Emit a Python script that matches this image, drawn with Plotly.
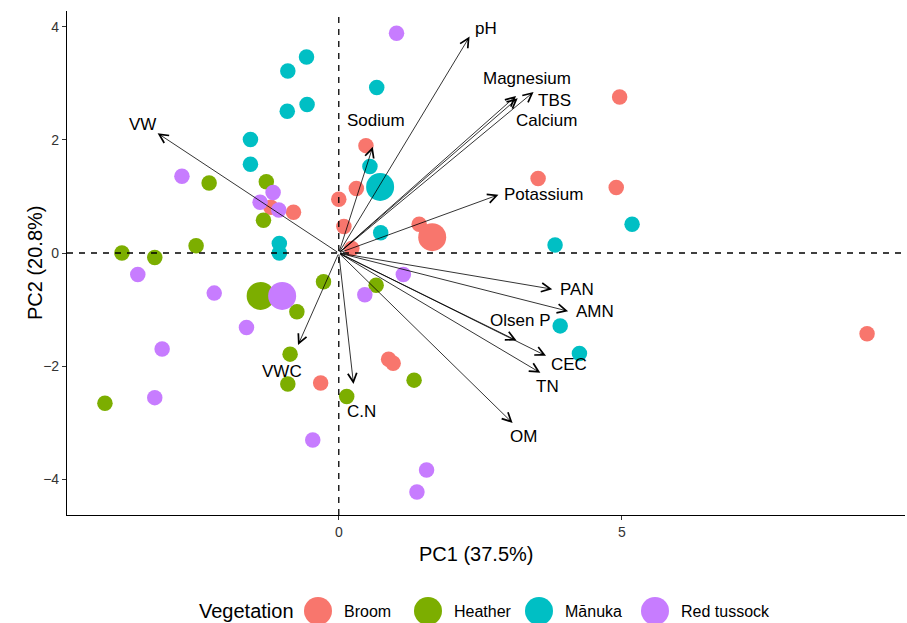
import plotly.graph_objects as go

# ---------------- data ----------------
groups = ["Broom", "Heather", "Mānuka", "Red tussock"]
colors = ["#F8766D", "#7CAE00", "#00BFC4", "#C77CFF"]

broom_pc1 = [-1.20, -0.80, 0.00, 0.09, 0.31, 0.48, 4.96, 3.52, 4.90, 1.42, 0.23, -0.32, 0.88, 0.96, 9.33]
broom_pc2 = [0.81, 0.72, 0.95, 0.47, 1.14, 1.90, 2.76, 1.32, 1.16, 0.51, 0.08, -2.30, -1.88, -1.95, -1.43]

heather_pc1 = [-2.29, -1.28, -1.33, -2.52, -3.83, -3.25, -0.27, -0.74, -0.86, -0.90, 0.14, -4.13, 0.66, 1.33]
heather_pc2 = [1.24, 1.26, 0.58, 0.13, 0.00, -0.08, -0.51, -1.04, -1.79, -2.32, -2.54, -2.66, -0.57, -2.25]

manuka_pc1 = [-0.57, -0.90, -0.56, -0.91, -1.56, -1.56, -1.05, -1.05, 0.67, 0.55, 3.82, 5.18, 0.74, 3.91, 4.25]
manuka_pc2 = [3.47, 3.22, 2.63, 2.51, 2.01, 1.57, 0.17, 0.00, 2.93, 1.53, 0.14, 0.51, 0.36, -1.29, -1.78]

tussock_pc1 = [-2.77, -1.16, -1.39, -1.06, 1.02, -3.55, -2.20, -1.63, -3.12, -3.25, -0.46, 1.14, 0.46, 1.55, 1.38]
tussock_pc2 = [1.36, 1.07, 0.90, 0.76, 3.89, -0.38, -0.71, -1.32, -1.70, -2.56, -3.31, -0.38, -0.74, -3.84, -4.23]

centroid_pc1 = [1.65, -1.38, 0.73, -1.00]
centroid_pc2 = [0.28, -0.76, 1.17, -0.76]

loading_names = ["pH", "Magnesium", "TBS", "Calcium", "Sodium", "Potassium", "VW", "VWC",
                 "C.N", "PAN", "AMN", "Olsen P", "CEC", "TN", "OM"]
loading_pc1 = [2.31, 3.13, 3.44, 3.16, 0.60, 2.82, -3.20, -0.72, 0.26, 3.77, 4.05, 3.14, 3.66, 3.56, 3.07]
loading_pc2 = [3.83, 2.78, 2.85, 2.74, 1.88, 1.03, 2.12, -1.63, -2.32, -0.64, -1.03, -1.55, -1.82, -2.12, -3.01]
label_pc1 = [2.60, 3.33, 3.81, 3.66, 0.66, 3.62, -3.46, -1.00, 0.40, 4.20, 4.52, 3.20, 4.06, 3.69, 3.26]
label_pc2 = [3.98, 3.09, 2.70, 2.35, 2.35, 1.03, 2.28, -2.10, -2.81, -0.64, -1.04, -1.19, -1.98, -2.37, -3.25]

x_ticks = [0, 5]
y_ticks = [-4, -2, 0, 2, 4]
y_ticktext = ["−4", "−2", "0", "2", "4"]

# ---------------- figure ----------------
W, H = 907, 623
ML, MR, MT, MB = 67, 2, 11, 108
PW, PH = W - ML - MR, H - MT - MB

def px2paper_x(px):
    return (px - ML) / PW

def px2paper_y(py):
    return (H - MB - py) / PH

FONT = "Liberation Sans, Arial, sans-serif"

fig = go.Figure()

series = [(broom_pc1, broom_pc2), (heather_pc1, heather_pc2),
          (manuka_pc1, manuka_pc2), (tussock_pc1, tussock_pc2)]
for g, c, (xs, ys) in zip(groups, colors, series):
    fig.add_trace(go.Scatter(x=xs, y=ys, mode="markers", name=g, showlegend=False,
                             marker=dict(color=c, size=15.5, line=dict(width=0))))

for i, g in enumerate(groups):
    fig.add_trace(go.Scatter(x=[centroid_pc1[i]], y=[centroid_pc2[i]], mode="markers",
                             name=g + " centroid", showlegend=False,
                             marker=dict(color=colors[i], size=28, line=dict(width=0))))

annotations = []
for n, lx, ly, tx, ty in zip(loading_names, loading_pc1, loading_pc2, label_pc1, label_pc2):
    annotations.append(dict(x=lx, y=ly, ax=0, ay=0, xref="x", yref="y", axref="x", ayref="y",
                            text="", showarrow=True, arrowhead=5, arrowsize=2.2, arrowwidth=0.8,
                            arrowcolor="black", standoff=0, startstandoff=0))
    annotations.append(dict(x=tx, y=ty, xref="x", yref="y", text=n, showarrow=False,
                            font=dict(family=FONT, size=17, color="black"),
                            xanchor="center", yanchor="middle"))

# axis titles
annotations.append(dict(x=px2paper_x(476), y=px2paper_y(554), xref="paper", yref="paper",
                        text="PC1 (37.5%)", showarrow=False, xanchor="center", yanchor="middle",
                        font=dict(family=FONT, size=20, color="black")))
annotations.append(dict(x=px2paper_x(35), y=px2paper_y(263), xref="paper", yref="paper",
                        text="PC2 (20.8%)", showarrow=False, xanchor="center", yanchor="middle",
                        textangle=-90, font=dict(family=FONT, size=20, color="black")))

# custom legend
leg_y = 611
annotations.append(dict(x=px2paper_x(197), y=px2paper_y(leg_y), xref="paper", yref="paper",
                        text="Vegetation", showarrow=False, xanchor="left", yanchor="middle",
                        font=dict(family=FONT, size=20, color="black")))
key_centers = [318, 428, 539, 655]
shapes = []
for c, g, kc in zip(colors, groups, key_centers):
    shapes.append(dict(type="circle", xref="paper", yref="paper", xsizemode="pixel",
                       ysizemode="pixel", xanchor=px2paper_x(kc), yanchor=px2paper_y(leg_y),
                       x0=-14, x1=14, y0=-14, y1=14, fillcolor=c, line=dict(width=0)))
    annotations.append(dict(x=px2paper_x(kc + 24), y=px2paper_y(leg_y), xref="paper", yref="paper",
                            text=g, showarrow=False, xanchor="left", yanchor="middle",
                            font=dict(family=FONT, size=16, color="black")))

# reference lines
shapes.append(dict(type="line", xref="paper", yref="y", x0=0, x1=1, y0=0, y1=0,
                   line=dict(color="black", width=1.3, dash="6px,6px"), layer="above"))
shapes.append(dict(type="line", xref="x", yref="paper", x0=0, x1=0, y0=0, y1=1,
                   line=dict(color="black", width=1.3, dash="6px,6px"), layer="above"))

fig.update_layout(
    width=W, height=H,
    margin=dict(l=ML, r=MR, t=MT, b=MB, autoexpand=False),
    plot_bgcolor="white", paper_bgcolor="white",
    font=dict(family=FONT, size=14, color="#333333"),
    showlegend=False,
    annotations=annotations,
    shapes=shapes,
    xaxis=dict(range=[-4.80, 10.0], tickvals=x_ticks, ticks="outside", ticklen=4,
               tickcolor="#333333", tickwidth=1, showline=True, linecolor="black", linewidth=1.2,
               showgrid=False, zeroline=False, tickfont=dict(size=14, color="#333333")),
    yaxis=dict(range=[-4.637, 4.283], tickvals=y_ticks, ticktext=y_ticktext, ticks="outside",
               ticklen=4, tickcolor="#333333", tickwidth=1, showline=True, linecolor="black",
               linewidth=1.2, showgrid=False, zeroline=False,
               tickfont=dict(size=14, color="#333333")),
)

fig.write_html("out.html", config={"displayModeBar": False},
               post_script="document.body.style.margin='0px';document.body.style.overflow='hidden';")
